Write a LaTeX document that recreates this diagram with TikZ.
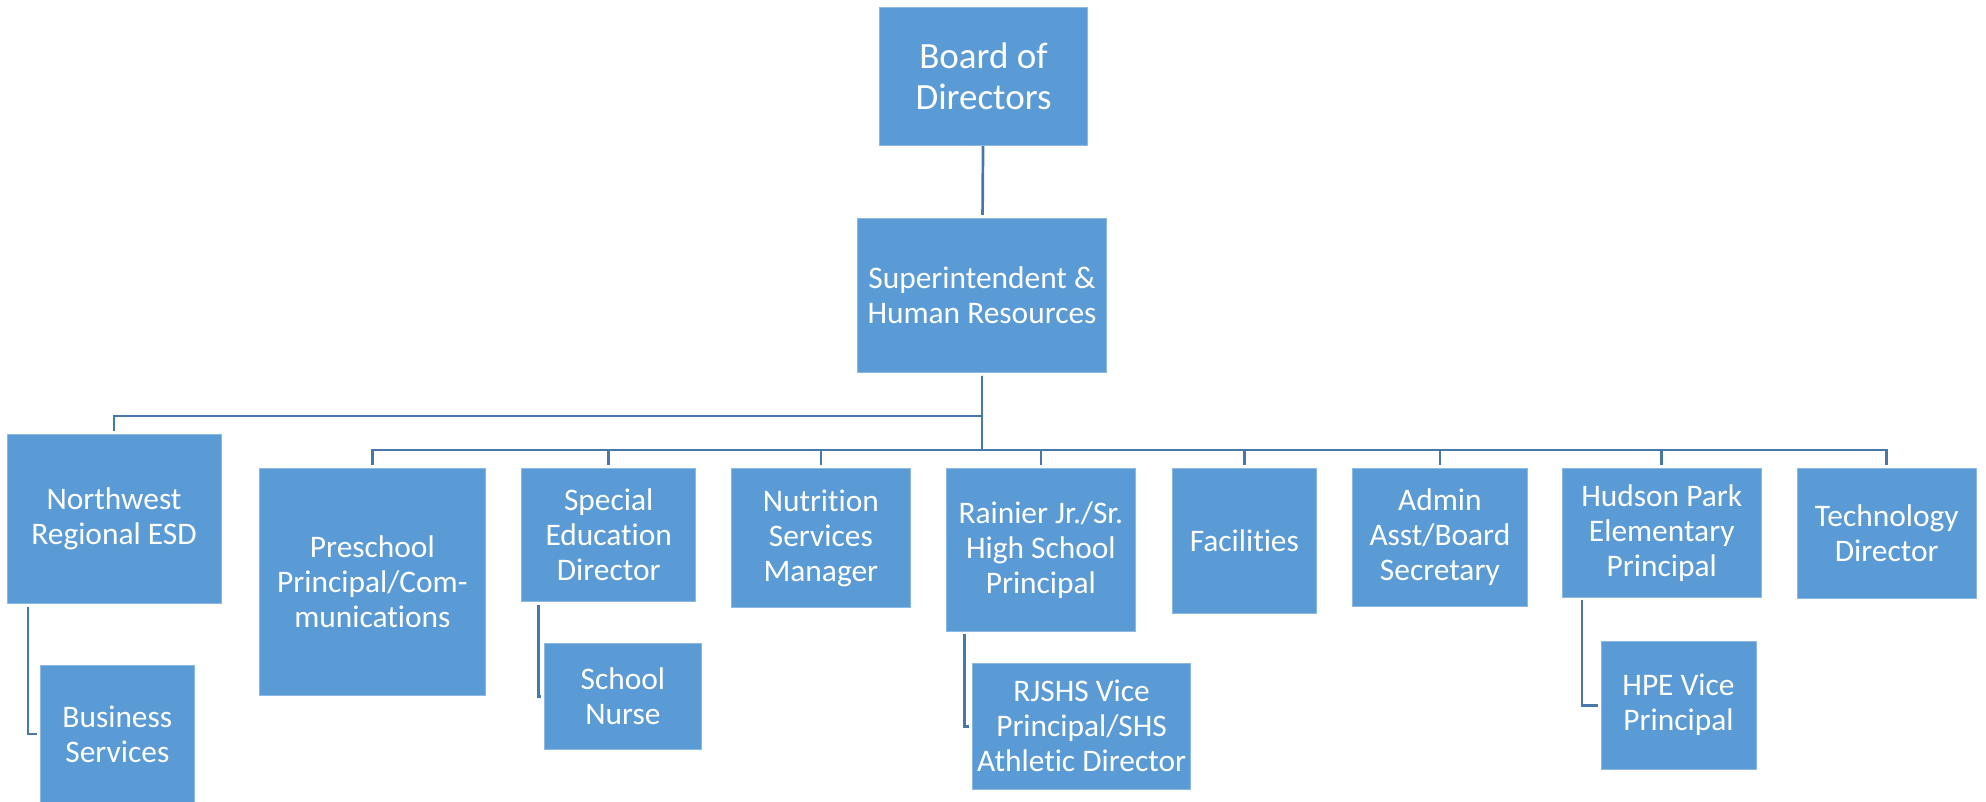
\documentclass[tikz,border=0pt]{standalone}
\usepackage{fontspec}
\setmainfont{Carlito}[Ligatures=NoCommon]
\usetikzlibrary{calc}
\definecolor{boxfill}{HTML}{5B9BD5}
\definecolor{boxedge}{HTML}{8CB9E4}
\definecolor{linkline}{HTML}{4679AA}
\begin{document}
\begin{tikzpicture}[x=1pt,y=-1pt,
  unit/.style={rectangle, fill=boxfill, draw=boxedge, line width=0.8pt,
    text=white, align=center, inner sep=0pt,
    font=\fontsize{31.4}{35}\selectfont},
  topunit/.style={unit, font=\fontsize{37}{41.7}\selectfont},
  link/.style={draw=linkline, line width=2.7pt, shorten <=3pt, shorten >=3pt}]
\useasboundingbox (0,0) rectangle (1986,801);

% levels of the chart
\node[topunit, minimum width=208pt, minimum height=138.7pt] (board) at (983.5,76.35) {Board of\\Directors};
\node[unit, minimum width=248.5pt, minimum height=154pt] (super) at (982,295.3) {Superintendent \&\\Human Resources};

\node[unit, minimum width=214pt, minimum height=168.6pt] (nw) at (114,519) {Northwest\\Regional ESD};
\node[unit, minimum width=154.7pt, minimum height=136.6pt] (biz) at (117.35,734) {Business\\Services};

\node[unit, minimum width=226.7pt, minimum height=226.6pt] (pre) at (372.35,582) {Preschool\\Principal/Com-\\munications};
\node[unit, minimum width=174pt, minimum height=132.6pt] (spec) at (608.7,535) {Special\\Education\\Director};
\node[unit, minimum width=157.7pt, minimum height=105.7pt] (nurse) at (622.85,696.15) {School\\Nurse};
\node[unit, minimum width=178.3pt, minimum height=138.6pt] (nutr) at (820.85,538) {Nutrition\\Services\\Manager};
\node[unit, minimum width=189.7pt, minimum height=162.3pt] (rain) at (1040.85,549.85) {Rainier Jr./Sr.\\High School\\Principal};
\node[unit, minimum width=218.2pt, minimum height=125.7pt] (rjs) at (1081.6,726.15) {RJSHS Vice\\Principal/SHS\\Athletic Director};
\node[unit, minimum width=144.7pt, minimum height=144.6pt] (fac) at (1244.35,541) {Facilities};
\node[unit, minimum width=174.3pt, minimum height=137.6pt] (adm) at (1439.85,537.5) {Admin\\Asst/Board\\Secretary};
\node[unit, minimum width=198.5pt, minimum height=128.3pt] (hud) at (1661.75,532.85) {Hudson Park\\Elementary\\Principal};
\node[unit, minimum width=155pt, minimum height=127.7pt] (hpe) at (1678.5,705.15) {HPE Vice\\Principal};
\node[unit, minimum width=178.6pt, minimum height=129.3pt] (tech) at (1886.7,533.35) {Technology\\Director};

% bus heights
\coordinate (busA) at (0,416);
\coordinate (busB) at (0,450);

% connectors
\draw[link, shorten <=0pt] (board) -- (super);
\draw[link] (super.south) -- (super.south |- busA) -| (nw.north);
\foreach \c in {pre,spec,nutr,rain,fac,adm,hud,tech}
  \draw[link] (super.south) -- (super.south |- busB) -| (\c.north);

% assistants hanging below their managers
\draw[link] ($(nw.south west)!0.1!(nw.south east)$) |- (biz.west);
\draw[link] ($(spec.south west)!0.1!(spec.south east)$) |- (nurse.west);
\draw[link] ($(rain.south west)!0.1!(rain.south east)$) |- (rjs.west);
\draw[link] ($(hud.south west)!0.1!(hud.south east)$) |- (hpe.west);
\end{tikzpicture}
\end{document}
